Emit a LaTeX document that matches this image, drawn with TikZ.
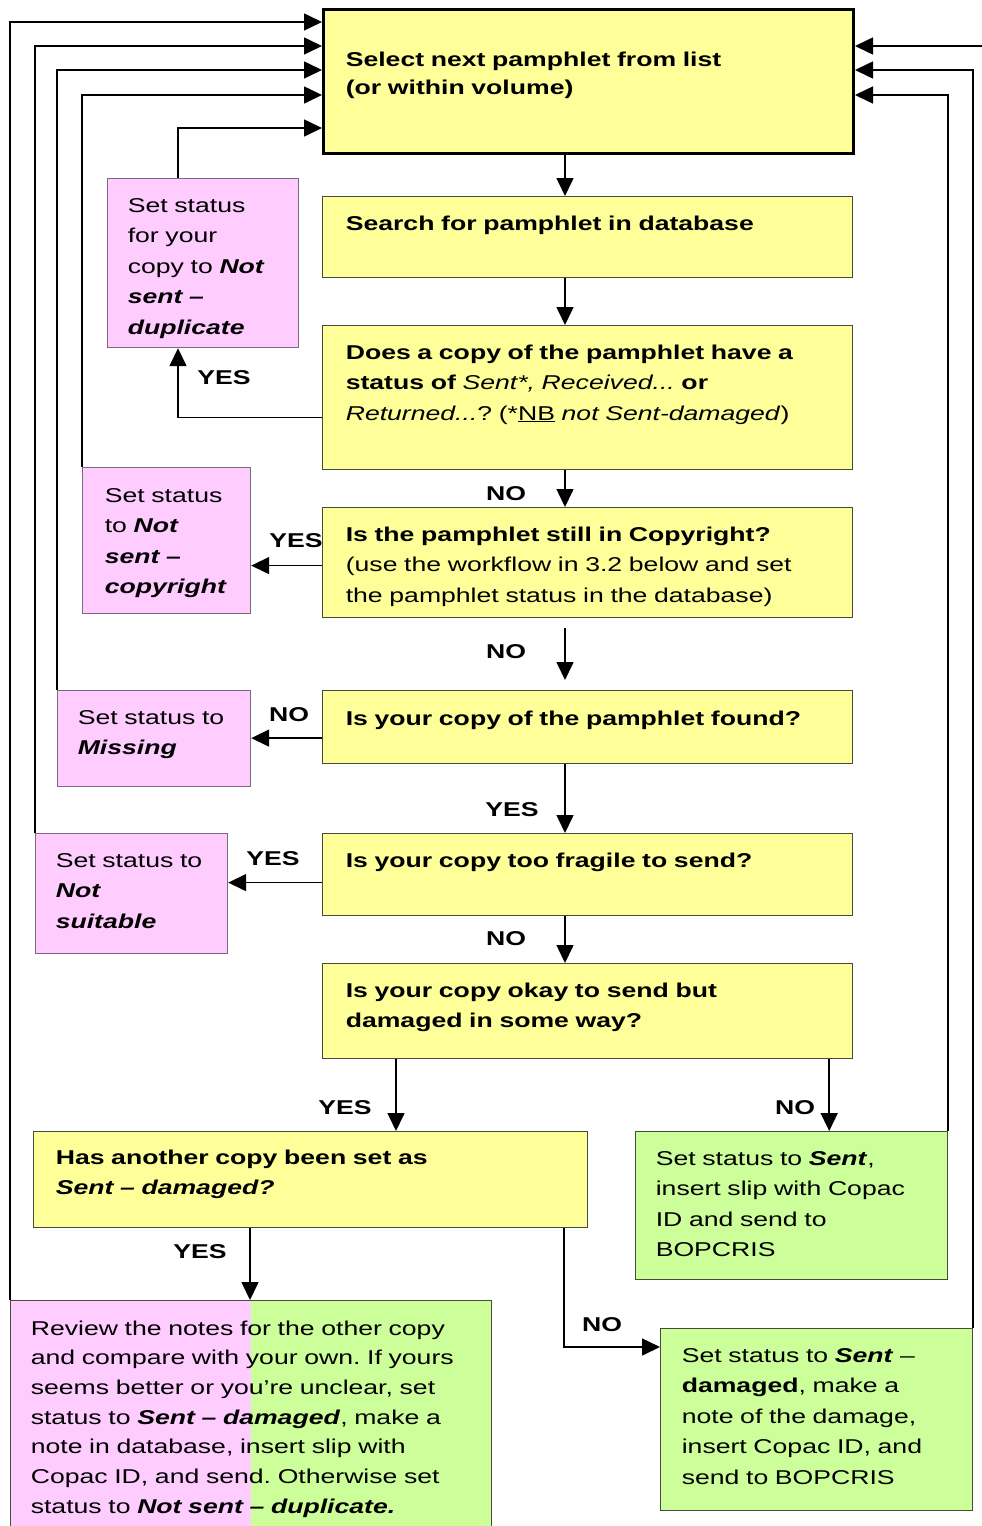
\documentclass[tikz,border=0pt]{standalone}
\usepackage{fontspec}
\setmainfont{Liberation Sans}[FakeStretch=1.33]
\usetikzlibrary{arrows.meta}
\frenchspacing

\definecolor{boxyellow}{HTML}{FFFF99}
\definecolor{boxpink}{HTML}{FFCCFF}
\definecolor{boxgreen}{HTML}{CCFF99}
\definecolor{boxline}{HTML}{4A4A3A}
\definecolor{pinkline}{HTML}{7A6A7A}
\newcommand{\bfit}[1]{\textbf{\textit{#1}}}

\begin{document}
\begin{tikzpicture}[x=1pt, y=1pt, >={Triangle[length=18pt,width=17pt]},
	line width=1.6pt,
	font=\fontsize{20pt}{30.5pt}\selectfont,
	box/.style={draw=boxline, line width=1.2pt, anchor=north west, inner sep=0pt},
	ybox/.style={box, fill=boxyellow},
	pbox/.style={box, draw=pinkline, fill=boxpink},
	gbox/.style={box, fill=boxgreen},
	split/.style={path picture={\fill[boxpink] (path picture bounding box.north west) rectangle ([xshift=240pt]path picture bounding box.south west);}},
	txt/.style={anchor=base west, inner sep=0pt, align=left, text width=#1},
	lbl/.style={inner sep=0pt, font=\fontsize{20pt}{24pt}\selectfont\bfseries}]
		\useasboundingbox (0,0) rectangle (982,-1526);
		\clip (0,0) rectangle (982,-1526);
		
		% Boxes down the middle
		\node[ybox, draw=black, line width=3pt, minimum width=530pt, minimum height=144pt] (sel) at (322,-8) {};
		\node[ybox, minimum width=530pt, minimum height=81pt] (srch) at (322,-196) {};
		\node[ybox, minimum width=530pt, minimum height=144pt] (copy) at (322,-325) {};
		\node[ybox, minimum width=530pt, minimum height=110pt] (cpr) at (322,-507) {};
		\node[ybox, minimum width=530pt, minimum height=73pt] (fnd) at (322,-690) {};
		\node[ybox, minimum width=530pt, minimum height=82pt] (frag) at (322,-833) {};
		\node[ybox, minimum width=530pt, minimum height=95pt] (ok) at (322,-963) {};
		\node[ybox, minimum width=554pt, minimum height=96pt] (other) at (33,-1131) {};
		
		% Status boxes
		\node[pbox, minimum width=191pt, minimum height=169pt] (dup) at (107,-178) {};
		\node[pbox, minimum width=168pt, minimum height=146pt] (cprset) at (82,-467) {};
		\node[pbox, minimum width=193pt, minimum height=96pt] (miss) at (57,-690) {};
		\node[pbox, minimum width=192pt, minimum height=120pt] (notsuit) at (35,-833) {};
		\node[gbox, minimum width=312pt, minimum height=148pt] (sent) at (635,-1131) {};
		\node[gbox, minimum width=312pt, minimum height=182pt] (sentdmg) at (660,-1328) {};
		\node[gbox, split, minimum width=481pt, minimum height=250pt] (review) at (10,-1300) {};
		
		% Texts
		\node[txt=500pt, font=\fontsize{20pt}{28.5pt}\selectfont] (sel-t) at ([shift={(23,-58)}]sel.north west) {\bfseries Select next pamphlet from list\\(or within volume)};
		\node[txt=500pt] (srch-t) at ([shift={(23,-34)}]srch.north west) {\bfseries Search for pamphlet in database};
		\node[txt=500pt] (copy-t) at ([shift={(23,-34)}]copy.north west) {\textbf{Does a copy of the pamphlet have a}\\\textbf{status of} \textit{Sent*, Received...} \textbf{or}\\\textit{Returned...}? (*\underline{NB} \textit{not Sent-damaged})};
		\node[txt=500pt] (cpr-t) at ([shift={(23,-34)}]cpr.north west) {\textbf{Is the pamphlet still in Copyright?}\\(use the workflow in 3.2 below and set\\the pamphlet status in the database)};
		\node[txt=500pt] (fnd-t) at ([shift={(23,-35)}]fnd.north west) {\bfseries Is your copy of the pamphlet found?};
		\node[txt=500pt] (frag-t) at ([shift={(23,-34)}]frag.north west) {\bfseries Is your copy too fragile to send?};
		\node[txt=500pt] (ok-t) at ([shift={(23,-34)}]ok.north west) {\bfseries Is your copy okay to send but\\damaged in some way?};
		\node[txt=520pt] (other-t) at ([shift={(22,-33)}]other.north west) {\bfseries Has another copy been set as\\\textit{Sent – damaged?}};
		\node[txt=168pt] (dup-t) at ([shift={(20,-34)}]dup.north west) {Set status\\for your\\copy to \bfit{Not}\\\bfit{sent –}\\\bfit{duplicate}};
		\node[txt=145pt] (cprset-t) at ([shift={(22,-35)}]cprset.north west) {Set status\\to \bfit{Not}\\\bfit{sent –}\\\bfit{copyright}};
		\node[txt=170pt] (miss-t) at ([shift={(20,-34)}]miss.north west) {Set status to\\\bfit{Missing}};
		\node[txt=170pt] (notsuit-t) at ([shift={(20,-34)}]notsuit.north west) {Set status to\\\bfit{Not}\\\bfit{suitable}};
		\node[txt=288pt] (sent-t) at ([shift={(20,-34)}]sent.north west) {Set status to \bfit{Sent},\\insert slip with Copac\\ID and send to\\BOPCRIS};
		\node[txt=288pt] (sentdmg-t) at ([shift={(21,-34)}]sentdmg.north west) {Set status to \bfit{Sent} –\\\textbf{damaged}, make a\\note of the damage,\\insert Copac ID, and\\send to BOPCRIS};
		\node[txt=458pt, font=\fontsize{20pt}{29.7pt}\selectfont] (review-t) at ([shift={(20,-35)}]review.north west) {Review the notes for the other copy\\and compare with your own. If yours\\seems better or you’re unclear, set\\status to \bfit{Sent – damaged}, make a\\note in database, insert slip with\\Copac ID, and send. Otherwise set\\status to \bfit{Not sent – duplicate.}};
		
		% Labels
		\node[lbl] (l-dup) at (224,-378) {YES};
		\node[lbl] (l-cpr) at (506,-494) {NO};
		\node[lbl] (l-cprset) at (296,-541) {YES};
		\node[lbl] (l-fnd) at (506,-652) {NO};
		\node[lbl] (l-miss) at (289,-715) {NO};
		\node[lbl] (l-frag) at (512,-810) {YES};
		\node[lbl] (l-notsuit) at (273,-859) {YES};
		\node[lbl] (l-ok) at (506,-939) {NO};
		\node[lbl] (l-other) at (345,-1108) {YES};
		\node[lbl] (l-sent) at (795,-1108) {NO};
		\node[lbl] (l-review) at (200,-1252) {YES};
		\node[lbl] (l-sentdmg) at (602,-1325) {NO};
		
		% Edge points
		\coordinate (spine) at (565,0);
		\coordinate (copy-yes) at ([yshift=-20pt]copy.west);
		\coordinate (cpr-yes) at ([yshift=-3pt]cpr.west);
		\coordinate (fnd-no) at ([yshift=-11pt]fnd.west);
		\coordinate (frag-yes) at ([yshift=-8pt]frag.west);
		\coordinate (ok-yes) at ([xshift=74pt]ok.south west);
		\coordinate (ok-no) at ([xshift=-24pt]ok.south east);
		\coordinate (other-yes) at ([xshift=217pt]other.south west);
		\coordinate (other-no) at ([xshift=-24pt]other.south east);
		\coordinate (offpage) at (982,-46);
		
		% Edges down the spine
		\draw[->] (sel.south -| spine) -- (srch.north -| spine);
		\draw[->] (srch.south -| spine) -- (copy.north -| spine);
		\draw[->] (copy.south -| spine) -- (cpr.north -| spine);
		\draw[->, shorten <=10pt, shorten >=10pt] (cpr.south -| spine) -- (fnd.north -| spine);
		\draw[->] (fnd.south -| spine) -- (frag.north -| spine);
		\draw[->] (frag.south -| spine) -- (ok.north -| spine);
		
		% Edges to the side
		\draw[->] (copy-yes) -| ([xshift=71pt]dup.south west);
		\draw[->] (cpr-yes) -- (cpr-yes -| cprset.east);
		\draw[->] (fnd-no) -- (fnd-no -| miss.east);
		\draw[->] (frag-yes) -- (frag-yes -| notsuit.east);
		\draw[->] (ok-yes) -- (ok-yes |- other.north);
		\draw[->] (ok-no) -- (ok-no |- sent.north);
		\draw[->] (other-yes) -- (other-yes |- review.north);
		\draw[->] (other-no) |- ([yshift=-19pt]sentdmg.north west);
		
		% Back to the top
		\draw[->] (review.north west) |- ([yshift=-14pt]sel.north west);
		\draw[->] (notsuit.north west) |- ([yshift=-38pt]sel.north west);
		\draw[->] (miss.north west) |- ([yshift=-62pt]sel.north west);
		\draw[->] (cprset.north west) |- ([yshift=-87pt]sel.north west);
		\draw[->] ([xshift=71pt]dup.north west) |- ([yshift=-120pt]sel.north west);
		\draw[->] (offpage) -- ([yshift=-38pt]sel.north east);
		\draw[->] (sentdmg.north east) |- ([yshift=-62pt]sel.north east);
		\draw[->] (sent.north east) |- ([yshift=-87pt]sel.north east);
		
	\end{tikzpicture}
\end{document}
